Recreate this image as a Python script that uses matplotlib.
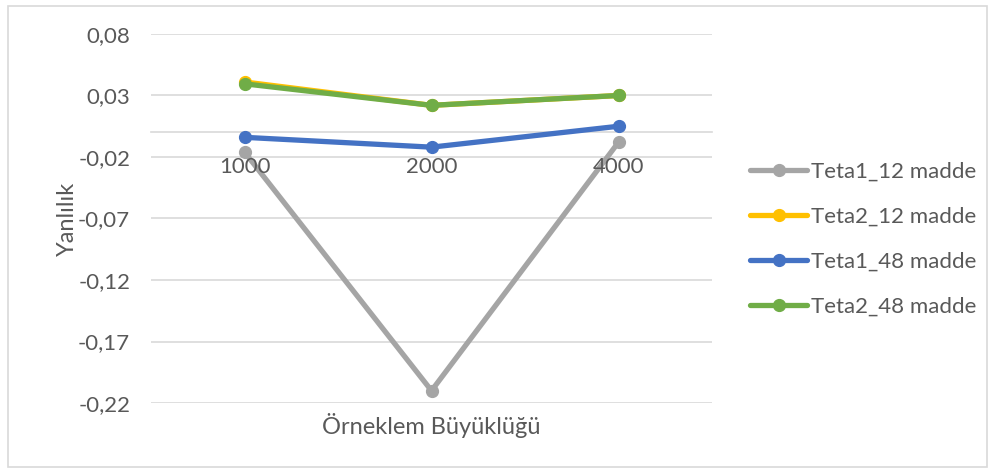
import matplotlib
matplotlib.use("Agg")
import matplotlib.pyplot as plt
import numpy as np
from matplotlib.patches import Rectangle

plt.rcParams['font.family'] = ['Lato', 'DejaVu Sans']

categories = ["1000", "2000", "4000"]
teta1_12 = [-0.016, -0.210, -0.008]
teta2_12 = [0.041, 0.022, 0.030]
teta1_48 = [-0.004, -0.012, 0.005]
teta2_48 = [0.0395, 0.022, 0.030]
series_names = ["Teta1_12 madde", "Teta2_12 madde", "Teta1_48 madde", "Teta2_48 madde"]
yticks = [-0.22, -0.17, -0.12, -0.07, -0.02, 0.03, 0.08]

colors = ["#A5A5A5", "#FFC000", "#4472C4", "#70AD47"]

W, H = 995, 473
fig = plt.figure(figsize=(W/100, H/100), dpi=100)
fig.patches.append(Rectangle((8/W, 6/H), 979/W, 461/H, transform=fig.transFigure,
                             fill=False, edgecolor="#D9D9D9", linewidth=1.2))

ax = fig.add_axes([151/W, (H-403)/H, (712-151)/W, (403-34)/H])
x = np.arange(len(categories))
for vals, c, name in zip([teta1_12, teta2_12, teta1_48, teta2_48], colors, series_names):
    ax.plot(x, vals, color=c, lw=3.8, marker='o', markersize=8.5, label=name,
            solid_capstyle='round', zorder=3)

ax.set_xlim(-0.5, len(categories) - 0.5)
ax.set_ylim(-0.22, 0.08)
ax.set_yticks(yticks)
ax.set_yticklabels([f"{v:.2f}".replace('.', ',') for v in yticks])
ax.set_xticks(x)
ax.set_xticklabels(categories)
ax.grid(axis='y', color="#D9D9D9", lw=1.2)
ax.yaxis.set_zorder(0.5)
ax.xaxis.set_zorder(5)
for s in ['top', 'right', 'left']:
    ax.spines[s].set_visible(False)
ax.spines['bottom'].set_position(('data', 0))
ax.spines['bottom'].set_color("#D9D9D9")
ax.spines['bottom'].set_linewidth(1.2)
ax.spines['bottom'].set_zorder(0.6)
ax.tick_params(axis='both', length=0, labelsize=16, labelcolor="#595959")
ax.tick_params(axis='y', pad=15)
ax.tick_params(axis='x', pad=18)

ax.set_ylabel("Yanlılık", fontsize=17, color="#595959", labelpad=0)
ax.text(0.5, (H-425-70)/(403-34) , "Örneklem Büyüklüğü", transform=ax.transAxes,
        ha='center', va='center', fontsize=17, color="#595959")

leg = fig.legend(loc='center left', bbox_to_anchor=(750/W, (H-239)/H), frameon=False,
                 fontsize=16, labelcolor="#595959", handlelength=2.57, handletextpad=0.18,
                 labelspacing=1.12, borderaxespad=0, borderpad=0)
fig.savefig("out.png", dpi=100)
